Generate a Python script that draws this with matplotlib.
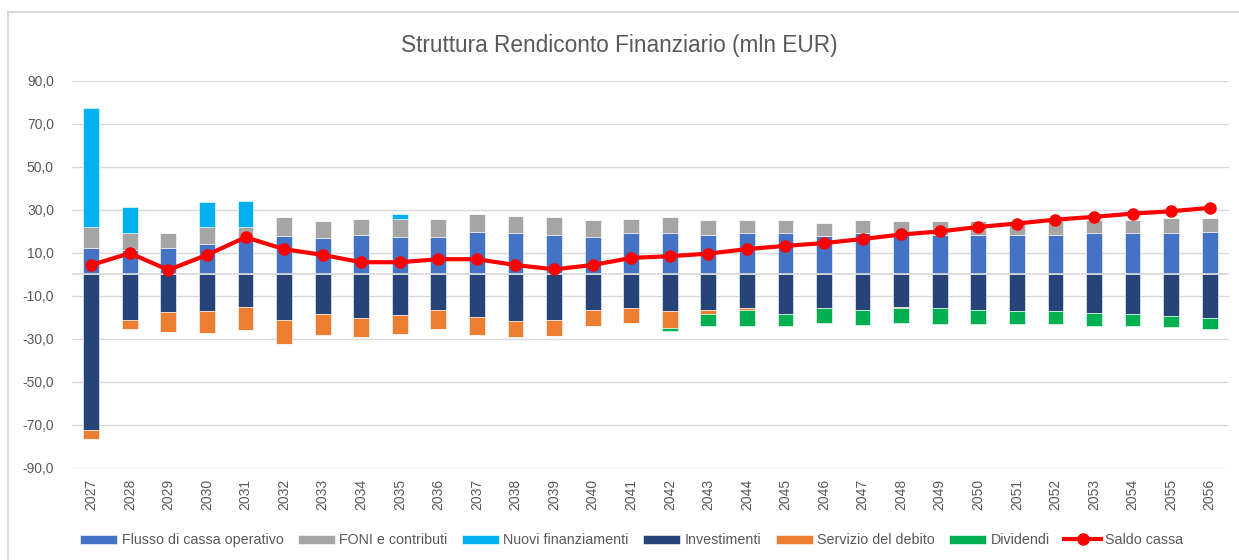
import numpy as np
import matplotlib.pyplot as plt
from matplotlib.patches import Rectangle

plt.rcParams['font.family'] = ['Liberation Sans Narrow', 'Liberation Sans', 'DejaVu Sans']

# data (mln EUR)
anni = [str(a) for a in range(2027, 2057)]
flusso_operativo = [12.3, 11.5, 12.3, 14.4, 17.0, 17.7, 17.2, 18.5, 17.6, 17.6,
                    19.9, 19.1, 18.5, 17.6, 19.1, 19.1, 18.5, 19.1, 19.1, 17.7,
                    19.1, 19.1, 18.5, 18.5, 18.5, 18.5, 19.1, 19.1, 19.1, 19.9]
foni_contributi = [9.9, 7.8, 6.8, 7.8, 5.2, 9.1, 7.5, 7.5, 8.4, 8.4,
                   8.3, 8.3, 8.3, 7.8, 6.9, 7.7, 6.9, 6.3, 6.3, 6.3,
                   6.3, 5.6, 6.2, 6.2, 5.5, 6.2, 6.3, 6.3, 7.0, 6.2]
nuovi_finanziamenti = [55.3, 12.2, 0, 11.3, 12.2, 0, 0, 0, 2.0, 0,
                       0, 0, 0, 0, 0, 0, 0, 0, 0, 0,
                       0, 0, 0, 0, 0, 0, 0, 0, 0, 0]
investimenti = [-72.5, -21.3, -17.6, -17.1, -15.1, -21.3, -18.5, -20.3, -19.0, -16.3,
                -19.8, -21.8, -21.2, -16.3, -15.7, -17.1, -16.3, -15.7, -18.4, -15.7,
                -16.3, -14.9, -15.7, -16.3, -17.1, -17.1, -17.7, -18.5, -19.1, -20.4]
servizio_debito = [-4.2, -3.9, -9.0, -10.2, -10.8, -10.8, -9.5, -9.0, -8.9, -8.9,
                   -8.2, -7.5, -7.5, -7.5, -6.7, -7.6, -2.1, -0.8, 0, 0,
                   0, -0.6, 0, 0, 0, 0, 0, 0, 0, 0]
dividendi = [0, 0, 0, 0, 0, 0, 0, 0, 0, 0,
             0, 0, 0, 0, 0, -1.8, -5.4, -7.3, -5.4, -6.9,
             -7.0, -7.1, -7.5, -6.9, -6.1, -6.1, -6.1, -5.3, -5.3, -4.8]
saldo_cassa = [4.4, 9.9, 2.1, 9.1, 17.3, 11.8, 9.1, 5.7, 5.7, 7.1,
               7.1, 4.4, 2.4, 4.4, 7.7, 8.5, 9.7, 11.8, 13.3, 14.6,
               16.5, 18.6, 20.0, 22.1, 23.7, 25.5, 26.8, 28.3, 29.4, 31.0]

grey_txt = '#595959'
x = np.arange(len(anni))
w = 0.41

fig = plt.figure(figsize=(12.39, 5.6), dpi=100)
# chart-area border, cut off on the right and bottom like in the original
fig.patches.append(Rectangle((7.5 / 1239, -0.1), 1.2, 1.1 - 11.5 / 560,
                             transform=fig.transFigure, fill=False,
                             edgecolor='#d9d9d9', lw=1.5))
ax = fig.add_axes([0.0581, 0.1643, 0.9338, 0.6911])

op = np.array(flusso_operativo)
fo = np.array(foni_contributi)
inv = np.array(investimenti)
sd = np.array(servizio_debito)

bar_kw = dict(width=w, edgecolor='white', linewidth=0.4, zorder=2)
ax.bar(x, op, color='#4472c4', label='Flusso di cassa operativo', **bar_kw)
ax.bar(x, fo, bottom=op, color='#a5a5a5', label='FONI e contributi', **bar_kw)
ax.bar(x, nuovi_finanziamenti, bottom=op + fo, color='#00b0f0',
       label='Nuovi finanziamenti', **bar_kw)
ax.bar(x, inv, color='#264478', label='Investimenti', **bar_kw)
ax.bar(x, sd, bottom=inv, color='#ed7d31', label='Servizio del debito', **bar_kw)
ax.bar(x, dividendi, bottom=inv + sd, color='#00b050', label='Dividendi', **bar_kw)
ax.plot(x, saldo_cassa, color='#ff0000', lw=3, marker='o', markersize=8,
        label='Saldo cassa', zorder=4)

ax.axhline(0, color='#d9d9d9', lw=1.2, zorder=3)

ax.set_ylim(-90, 90)
ax.set_xlim(-0.5, len(anni) - 0.5)
yt = np.arange(-90, 91, 20)
ax.set_yticks(yt)
ax.set_yticklabels([f'{v:.1f}'.replace('.', ',') for v in yt])
ax.set_xticks(x)
ax.set_xticklabels(anni, rotation=90)
ax.tick_params(axis='both', length=0, colors=grey_txt, labelsize=10)
ax.tick_params(axis='x', pad=8)
ax.tick_params(axis='y', pad=13)
ax.grid(axis='y', color='#d9d9d9', lw=1)
ax.set_axisbelow(True)
for s in ax.spines.values():
    s.set_visible(False)

fig.suptitle('Struttura Rendiconto Finanziario (mln EUR)', y=0.94,
             fontsize=16.3, color=grey_txt)

# line goes last in the legend, as in the original
handles, labels = ax.get_legend_handles_labels()
handles = handles[1:] + handles[:1]
labels = labels[1:] + labels[:1]
fig.legend(handles, labels, loc='lower center', bbox_to_anchor=(0.51, 0.0), ncol=7,
           frameon=False, fontsize=10.3, labelcolor=grey_txt, handlelength=2.6,
           handleheight=0.6, columnspacing=1.0, handletextpad=0.3)

fig.savefig('out.png', dpi=100)
